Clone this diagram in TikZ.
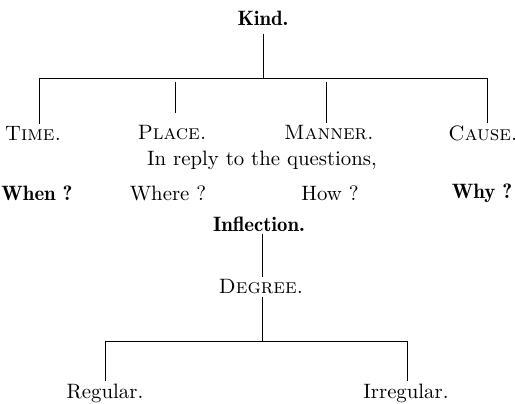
\documentclass[tikz,border=0pt]{standalone}
\usepackage{tikz}
\usetikzlibrary{positioning}
\usetikzlibrary{calc}
\tikzstyle{word}=[inner sep=1pt,font=\fontsize{10.4}{12}\selectfont]
\tikzstyle{head}=[word,font=\fontsize{10.4}{12}\fontseries{b}\selectfont]
\tikzstyle{kind}=[word,font=\fontsize{10.4}{12}\selectfont\scshape]
\tikzstyle{branch}=[line width=0.45pt]

\begin{document}
\begin{tikzpicture}[x=0.5pt,y=-0.5pt]
  \useasboundingbox (0,0) rectangle (515,403);
  % adverbs by meaning
  \node[head] (kind) at (263,18) {Kind.};
  \node[kind] (time) at (33,133) {Time.};
  \node[kind] (place) at (172,133) {Place.};
  \node[kind] (manner) at (329,133) {Manner.};
  \node[kind] (cause) at (483,133) {Cause.};
  \node[word] (reply) at (262,160) {In reply to the questions,};
  \node[head] (when) at (37,193) {When ?};
  \node[word] (where) at (168,193) {Where ?};
  \node[word] (how) at (330,193) {How ?};
  \node[head] (why) at (482,193) {Why ?};
  \coordinate (barL) at (39,78);
  \coordinate (barR) at (487,78);
  \draw[branch,shorten <=3pt] (kind) -- (kind |- barL);
  \draw[branch] (barL |- time.north) -- (barL) -- (barR) -- (barR |- cause.north);
  \draw[branch] ([xshift=1.5pt,yshift=-2pt]place |- barL) -- ([xshift=1.5pt,yshift=5pt]place.north);
  \draw[branch] ([xshift=-1.5pt,yshift=-2pt]manner |- barL) -- ([xshift=-1.5pt]manner.north);
  % inflection
  \node[head] (infl) at (259,224) {Inflection.};
  \node[kind] (degree) at (261,287) {Degree.};
  \node[word] (reg) at (105,393) {Regular.};
  \node[word] (irreg) at (406,393) {Irregular.};
  \coordinate (lowL) at (105,341);
  \coordinate (lowR) at (407,341);
  \draw[branch] ([xshift=1.5pt]infl.south) -- ([xshift=0.5pt]degree.north);
  \draw[branch] ([xshift=0.5pt]degree.south) -- ([xshift=0.5pt]degree |- lowL);
  \draw[branch] (reg.north -| lowL) -- (lowL) -- (lowR) -- (irreg.north -| lowR);
\end{tikzpicture}
\end{document}
